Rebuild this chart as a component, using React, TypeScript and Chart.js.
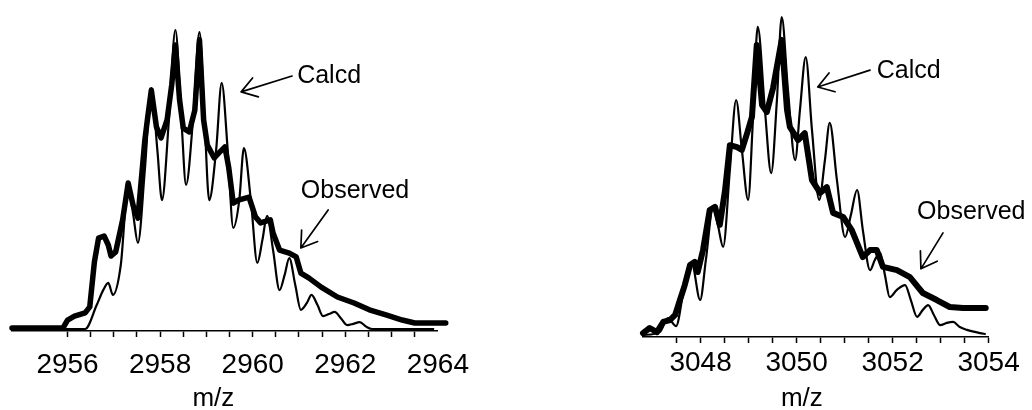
import React, { useEffect, useRef } from 'react';
import { Chart, registerables } from 'chart.js';

Chart.register(...registerables);

// ---------- data (m/z, relative intensity) ----------
const leftCalcdMz = [2954.83, 2956.38, 2956.63, 2956.77, 2956.88, 2956.98, 2957.15, 2957.31, 2957.42, 2957.52, 2957.67, 2957.81, 2957.94, 2958.04, 2958.19, 2958.33, 2958.46, 2958.56, 2958.71, 2958.85, 2958.96, 2959.06, 2959.21, 2959.33, 2959.46, 2959.58, 2959.71, 2959.81, 2959.96, 2960.10, 2960.21, 2960.31, 2960.44, 2960.58, 2960.69, 2960.79, 2960.92, 2961.04, 2961.17, 2961.27, 2961.40, 2961.52, 2961.65, 2961.77, 2961.90, 2962.04, 2962.17, 2962.31, 2962.46, 2962.58, 2963.92];
const leftCalcdInt = [0, 0, 8.0, 13.0, 15.4, 11.4, 21.4, 48.2, 38.1, 28.8, 53.2, 80.6, 59.9, 43.1, 69.9, 100, 69.9, 48.2, 69.9, 99.3, 69.9, 43.1, 59.9, 82.3, 59.9, 33.8, 43.1, 60.5, 43.1, 22.1, 29.8, 37.8, 26.4, 13.0, 18.1, 23.7, 14.7, 6.4, 8.7, 11.4, 8.0, 4.3, 5.0, 5.7, 3.7, 1.3, 1.7, 2.3, 0.7, 0, 0];

const leftObsMz = [2954.8, 2955.90, 2956.00, 2956.15, 2956.38, 2956.48, 2956.58, 2956.67, 2956.79, 2956.88, 2956.94, 2957.04, 2957.19, 2957.31, 2957.42, 2957.52, 2957.67, 2957.73, 2957.81, 2957.92, 2958.02, 2958.15, 2958.25, 2958.33, 2958.42, 2958.50, 2958.63, 2958.75, 2958.85, 2958.94, 2959.02, 2959.17, 2959.27, 2959.40, 2959.48, 2959.58, 2959.69, 2959.92, 2960.06, 2960.17, 2960.38, 2960.44, 2960.58, 2960.79, 2960.94, 2961.04, 2961.21, 2961.48, 2961.83, 2962.19, 2962.52, 2962.88, 2963.23, 2963.50, 2964.17];
const leftObsInt = [0.3, 0.3, 3.0, 4.3, 5.4, 7.4, 22.4, 30.4, 31.1, 28.1, 24.4, 25.8, 36.5, 48.8, 41.1, 37.1, 63.2, 70.6, 79.9, 67.6, 63.9, 69.9, 81.6, 95.0, 76.6, 67.2, 65.9, 73.2, 96.7, 69.9, 61.5, 57.2, 58.9, 60.9, 54.2, 42.1, 43.1, 44.1, 37.5, 35.5, 36.5, 32.1, 26.4, 25.4, 24.1, 18.7, 17.1, 14.0, 10.7, 8.7, 6.4, 4.7, 3.0, 2.0, 2.0];

const rightCalcdMz = [3046.80, 3047.15, 3047.32, 3047.49, 3047.65, 3047.82, 3047.99, 3048.11, 3048.26, 3048.36, 3048.47, 3048.61, 3048.74, 3048.86, 3048.99, 3049.09, 3049.19, 3049.34, 3049.47, 3049.59, 3049.69, 3049.82, 3049.97, 3050.07, 3050.19, 3050.32, 3050.47, 3050.59, 3050.69, 3050.84, 3051.01, 3051.13, 3051.26, 3051.38, 3051.53, 3051.63, 3051.74, 3051.84, 3051.94, 3052.09, 3052.26, 3052.38, 3052.51, 3052.63, 3052.74, 3052.86, 3052.99, 3053.13, 3053.26, 3053.40, 3053.55, 3053.82, 3053.94];
const rightCalcdInt = [0, 0.9, 5.3, 2.8, 14.2, 22.3, 11.0, 23.6, 40.3, 34.6, 27.7, 51.9, 73.9, 58.2, 42.5, 67.6, 96.9, 70.8, 50.9, 73.9, 100, 77.0, 55.0, 70.8, 87.4, 64.5, 42.5, 55.0, 66.7, 48.7, 30.8, 37.7, 45.6, 33.0, 20.4, 23.6, 25.8, 18.9, 11.9, 14.2, 15.7, 11.0, 5.7, 7.9, 9.4, 6.3, 3.1, 3.8, 4.1, 2.5, 1.6, 0.6, 0.3];

const rightObsMz = [3046.80, 3046.94, 3047.09, 3047.22, 3047.36, 3047.47, 3047.57, 3047.67, 3047.78, 3047.88, 3047.94, 3048.05, 3048.19, 3048.30, 3048.40, 3048.51, 3048.61, 3048.76, 3048.86, 3048.97, 3049.07, 3049.17, 3049.28, 3049.38, 3049.51, 3049.69, 3049.80, 3049.86, 3050.03, 3050.17, 3050.32, 3050.49, 3050.63, 3050.76, 3050.97, 3051.15, 3051.38, 3051.53, 3051.67, 3051.80, 3052.09, 3052.36, 3052.63, 3052.92, 3053.19, 3053.47, 3053.94];
const rightObsInt = [0.6, 2.2, 0.9, 4.1, 4.7, 6.3, 11.0, 15.7, 22.0, 23.0, 19.8, 26.7, 39.3, 40.3, 34.6, 45.6, 59.7, 59.1, 58.2, 63.5, 68.6, 91.2, 72.3, 70.1, 77.7, 92.8, 70.8, 65.4, 61.3, 63.5, 48.7, 44.7, 46.5, 38.4, 37.1, 33.0, 24.5, 26.7, 26.7, 21.4, 20.4, 18.2, 13.2, 11.0, 8.8, 8.5, 8.5];

const leftTickLabels = ['2956', '2958', '2960', '2962', '2964'];
const rightTickLabels = ['3048', '3050', '3052', '3054'];
const axisTitle = 'm/z';
const calcdLabel = 'Calcd';
const observedLabel = 'Observed';

const FONT = '"Liberation Sans", Arial, Helvetica, sans-serif';

const zip = (xs: number[], ys: number[]) => xs.map((x, i) => ({ x, y: ys[i] }));

const annotationPlugin = {
  id: 'msAnnotations',
  afterDatasetsDraw(chart: any, _args: any, opts: any) {
    const { ctx } = chart;
    const xs = chart.scales.x;
    const ys = chart.scales.y;
    ctx.save();
    ctx.fillStyle = '#000';
    ctx.strokeStyle = '#000';
    ctx.font = `25px ${FONT}`;
    ctx.textBaseline = 'middle';
    ctx.textAlign = 'left';
    for (const a of opts.items || []) {
      ctx.fillText(a.label, xs.getPixelForValue(a.text[0]), ys.getPixelForValue(a.text[1]));
      const x1 = xs.getPixelForValue(a.from[0]);
      const y1 = ys.getPixelForValue(a.from[1]);
      const x2 = xs.getPixelForValue(a.to[0]);
      const y2 = ys.getPixelForValue(a.to[1]);
      ctx.lineWidth = 1.7;
      ctx.lineCap = 'round';
      ctx.beginPath();
      ctx.moveTo(x1, y1);
      ctx.lineTo(x2, y2);
      const ang = Math.atan2(y1 - y2, x1 - x2);
      for (const s of [-1, 1]) {
        const b = ang + s * 0.58;
        ctx.moveTo(x2, y2);
        ctx.lineTo(x2 + 18 * Math.cos(b), y2 + 18 * Math.sin(b));
      }
      ctx.stroke();
    }
    if (opts.title) {
      ctx.font = `26px ${FONT}`;
      ctx.textAlign = 'center';
      ctx.fillText(opts.title, xs.getPixelForValue(opts.titleX), chart.height - 11);
    }
    ctx.restore();
  },
};

type PanelProps = {
  left: number;
  width: number;
  calcd: { x: number; y: number }[];
  observed: { x: number; y: number }[];
  xMin: number;
  xMax: number;
  yMin: number;
  yMax: number;
  padLeft: number;
  padRight: number;
  axisHeight: number;
  tickPad: number;
  tickLabels: string[];
  tickVisible: (v: number) => boolean;
  obsWidth: number;
  annotations: any[];
  titleX: number;
};

function SpectrumPanel(p: PanelProps) {
  const ref = useRef<HTMLCanvasElement | null>(null);
  useEffect(() => {
    if (!ref.current) return;
    const chart = new Chart(ref.current, {
      type: 'line',
      data: {
        datasets: [
          {
            label: observedLabel,
            data: p.observed,
            borderColor: '#000',
            borderWidth: p.obsWidth,
            pointRadius: 0,
            tension: 0,
            fill: false,
            clip: 12,
            borderJoinStyle: 'round',
            borderCapStyle: 'round',
          },
          {
            label: calcdLabel,
            data: p.calcd,
            borderColor: '#000',
            borderWidth: 2.2,
            pointRadius: 0,
            cubicInterpolationMode: 'monotone',
            fill: false,
            clip: 12,
          },
        ],
      } as any,
      options: {
        animation: false,
        responsive: false,
        events: [],
        layout: { padding: { left: p.padLeft, right: p.padRight, top: 5, bottom: 0 } },
        plugins: {
          legend: { display: false },
          tooltip: { enabled: false },
          msAnnotations: { items: p.annotations, title: axisTitle, titleX: p.titleX },
        } as any,
        scales: {
          x: {
            type: 'linear',
            min: p.xMin,
            max: p.xMax,
            afterFit: (scale: any) => {
              scale.height = p.axisHeight;
            },
            grid: {
              drawOnChartArea: false,
              drawTicks: true,
              tickLength: 6,
              tickWidth: 1.5,
              tickColor: (c: any) => (c.tick && p.tickVisible(c.tick.value) ? '#000' : 'rgba(0,0,0,0)'),
            },
            border: { display: true, color: '#000', width: 1.6 },
            ticks: {
              stepSize: 0.5,
              includeBounds: false,
              autoSkip: false,
              maxTicksLimit: 100,
              maxRotation: 0,
              minRotation: 0,
              padding: p.tickPad,
              color: '#000',
              font: { family: FONT, size: 28, lineHeight: 1.2 },
              callback: (v: any) => {
                const n = Number(v);
                const r = Math.round(n);
                return Math.abs(n - r) < 1e-6 && p.tickLabels.includes(String(r)) ? String(r) : '';
              },
            },
            title: { display: false },
          },
          y: {
            type: 'linear',
            display: false,
            min: p.yMin,
            max: p.yMax,
          },
        },
      } as any,
      plugins: [annotationPlugin],
    });
    return () => chart.destroy();
  }, []);
  return (
    <canvas
      ref={ref}
      width={p.width}
      height={410}
      style={{ position: 'absolute', left: p.left, top: 0, width: p.width, height: 410 }}
    />
  );
}

export default function App() {
  return (
    <div
      style={{
        position: 'fixed',
        left: 0,
        top: 0,
        width: 1032,
        height: 410,
        overflow: 'hidden',
        background: '#fff',
      }}
    >
      <SpectrumPanel
        left={0}
        width={480}
        calcd={zip(leftCalcdMz, leftCalcdInt)}
        observed={zip(leftObsMz, leftObsInt)}
        xMin={2954.8}
        xMax={2964}
        yMin={-0.67}
        yMax={108.36}
        padLeft={12}
        padRight={26}
        axisHeight={79}
        tickPad={11}
        tickLabels={leftTickLabels}
        tickVisible={(v) => v > 2955.9 && v < 2963.9}
        obsWidth={5.5}
        annotations={[
          { label: calcdLabel, text: [2960.96, 84.6], from: [2960.85, 84.6], to: [2959.75, 79.3] },
          { label: observedLabel, text: [2961.04, 46.2], from: [2961.63, 39.8], to: [2961.04, 27.1] },
        ]}
        titleX={2959.15}
      />
      <SpectrumPanel
        left={630}
        width={402}
        calcd={zip(rightCalcdMz, rightCalcdInt)}
        observed={zip(rightObsMz, rightObsInt)}
        xMin={3046.8}
        xMax={3054}
        yMin={-0.63}
        yMax={103.77}
        padLeft={13}
        padRight={43.4}
        axisHeight={73}
        tickPad={3.7}
        tickLabels={rightTickLabels}
        tickVisible={(v) => v > 3047.4}
        obsWidth={6}
        annotations={[
          { label: calcdLabel, text: [3051.67, 83.0], from: [3051.53, 83.3], to: [3050.44, 78.0] },
          { label: observedLabel, text: [3052.51, 38.7], from: [3053.05, 32.1], to: [3052.59, 20.8] },
        ]}
        titleX={3050.11}
      />
    </div>
  );
}
